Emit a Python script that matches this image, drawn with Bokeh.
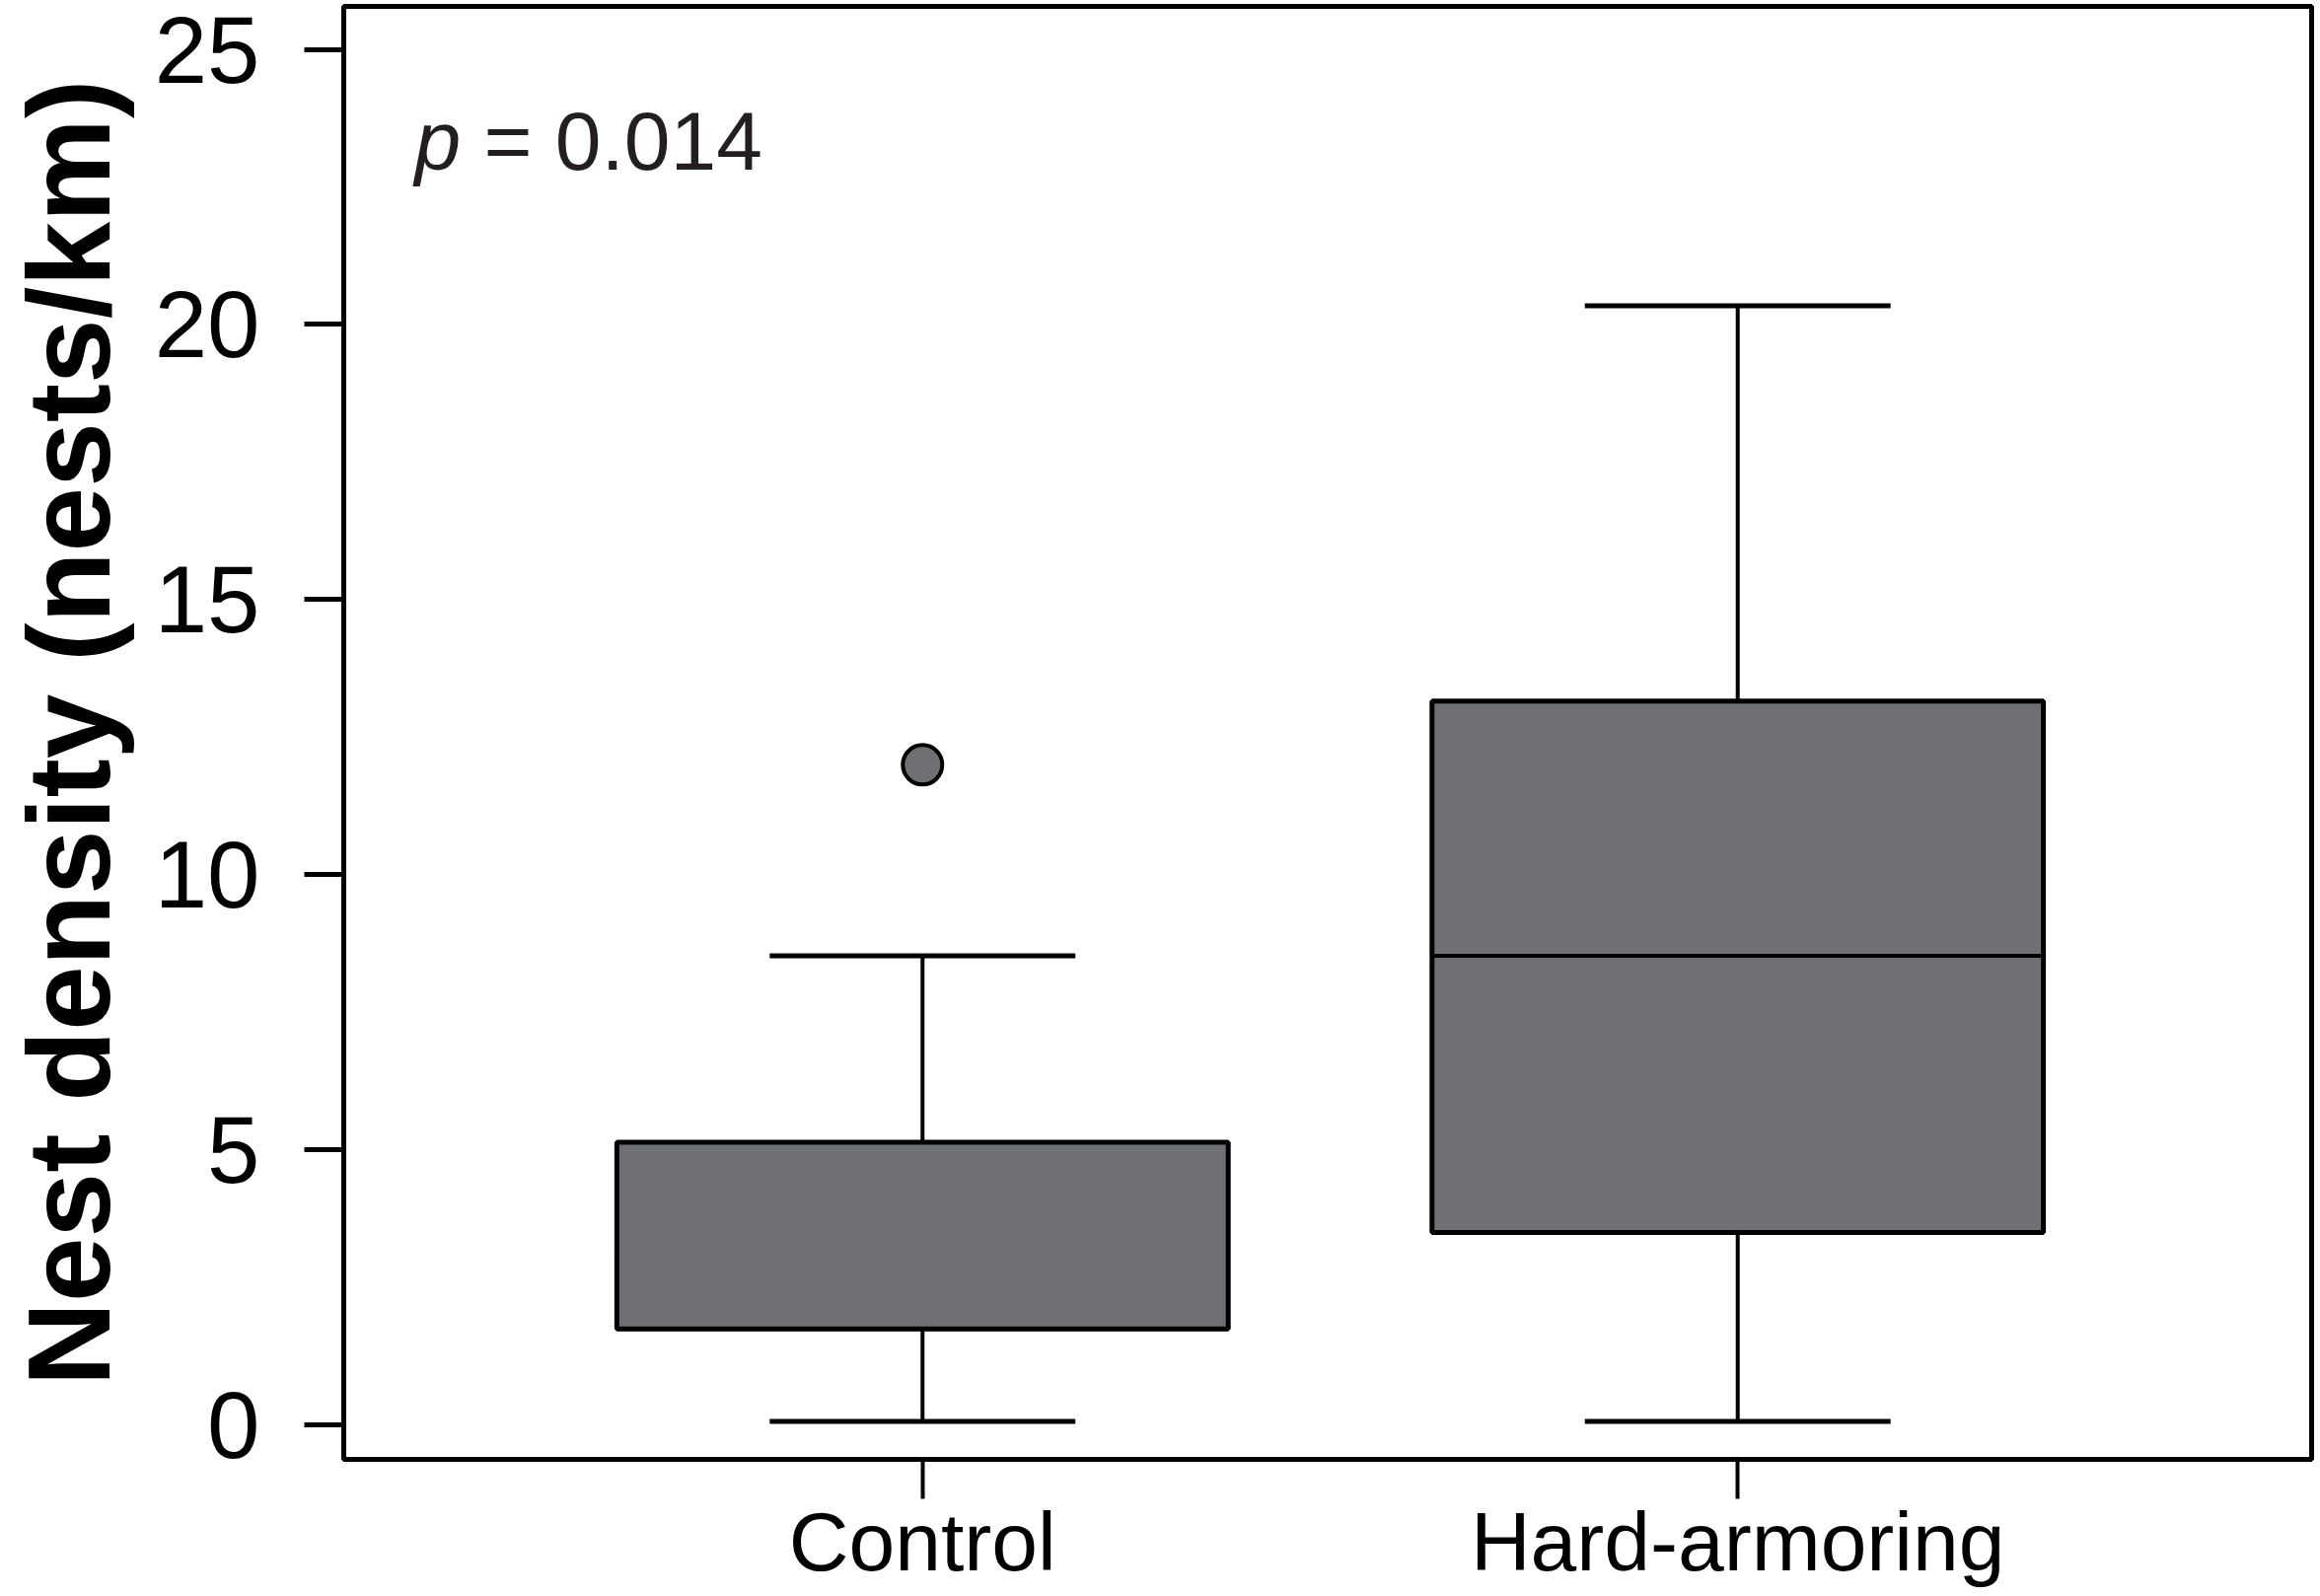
from bokeh.plotting import figure
from bokeh.models import Range1d, FixedTicker, ColumnDataSource
from bokeh.embed import file_html
from bokeh.resources import INLINE
from bokeh.core.properties import value

# ---- data ----
categories = ["Control", "Hard-armoring"]
lower_whisker = [0.07, 0.07]
q1 = [1.75, 3.50]
median = [1.75, 8.53]
q3 = [5.14, 13.16]
upper_whisker = [8.53, 20.34]
outlier_category = ["Control"]
outlier_value = [12.0]
y_ticks = [0, 5, 10, 15, 20, 25]
y_title = "Nest density (nests/km)"
p_symbol = "p"
p_rest = "= 0.014"

FONT = "Liberation Sans"
BOX_COLOR = "#6f7073"
box_w = 0.75
cap_w = 0.375

X0, X1 = 0.29, 2.704
Y0, Y1 = -0.62, 25.78

xpos = [i + 1 for i in range(len(categories))]
src = ColumnDataSource(dict(
    x=xpos,
    low=lower_whisker, q1=q1, med=median, q3=q3, high=upper_whisker,
    x0=[x - box_w / 2 for x in xpos], x1=[x + box_w / 2 for x in xpos],
    c0=[x - cap_w / 2 for x in xpos], c1=[x + cap_w / 2 for x in xpos],
))
osrc = ColumnDataSource(dict(
    x=[xpos[categories.index(c)] for c in outlier_category],
    y=outlier_value,
))

p = figure(width=2352, height=1618, output_backend="svg", toolbar_location=None,
           x_range=Range1d(X0, X1), y_range=Range1d(Y0, Y1),
           min_border_left=348, min_border_right=9, min_border_top=6, min_border_bottom=139)
p.background_fill_color = "white"
p.border_fill_color = "white"
p.grid.visible = False
p.outline_line_color = "black"
p.outline_line_width = 5

# whisker stems
p.segment(x0="x", y0="q3", x1="x", y1="high", source=src, line_color="black", line_width=4)
p.segment(x0="x", y0="low", x1="x", y1="q1", source=src, line_color="black", line_width=4)
# caps
p.segment(x0="c0", y0="high", x1="c1", y1="high", source=src, line_color="black", line_width=5)
p.segment(x0="c0", y0="low", x1="c1", y1="low", source=src, line_color="black", line_width=5)
# boxes
p.vbar(x="x", width=box_w, bottom="q1", top="q3", source=src,
       fill_color=BOX_COLOR, line_color="black", line_width=5)
# medians
p.segment(x0="x0", y0="med", x1="x1", y1="med", source=src, line_color="black", line_width=4)
# outliers
p.scatter(x="x", y="y", source=osrc, size=40, marker="circle",
          fill_color=BOX_COLOR, line_color="black", line_width=4)

# p-value annotation
p.text(x=[0.377], y=[23.33], text=[p_symbol], text_font=value(FONT), text_font_style="italic",
       text_font_size="84px", text_color="#231f20", text_baseline="alphabetic", text_align="left")
p.text(x=[0.4617], y=[23.33], text=[p_rest], text_font=value(FONT),
       text_font_size="84px", text_color="#231f20", text_baseline="alphabetic", text_align="left")

xa = p.xaxis[0]
xa.ticker = FixedTicker(ticks=xpos)
xa.major_label_overrides = {x: c for x, c in zip(xpos, categories)}
xa.major_label_text_font = FONT
xa.major_label_text_font_size = "84px"
xa.major_label_text_color = "black"
xa.major_label_standoff = -4
xa.major_tick_out = 40
xa.major_tick_in = 0
xa.major_tick_line_width = 4
xa.major_tick_line_color = "black"
xa.minor_tick_line_color = None
xa.axis_line_color = None

ya = p.yaxis[0]
ya.ticker = FixedTicker(ticks=y_ticks)
ya.major_label_text_font = FONT
ya.major_label_text_font_size = "96px"
ya.major_label_text_color = "black"
ya.major_label_standoff = 45
ya.major_tick_out = 40
ya.major_tick_in = 0
ya.major_tick_line_width = 5
ya.major_tick_line_color = "black"
ya.minor_tick_line_color = None
ya.axis_line_color = None
ya.axis_label = y_title
ya.axis_label_text_font = FONT
ya.axis_label_text_font_style = "bold"
ya.axis_label_text_font_size = "118px"
ya.axis_label_text_color = "black"
ya.axis_label_standoff = 18

open("out.html", "w").write(file_html(p, INLINE))
